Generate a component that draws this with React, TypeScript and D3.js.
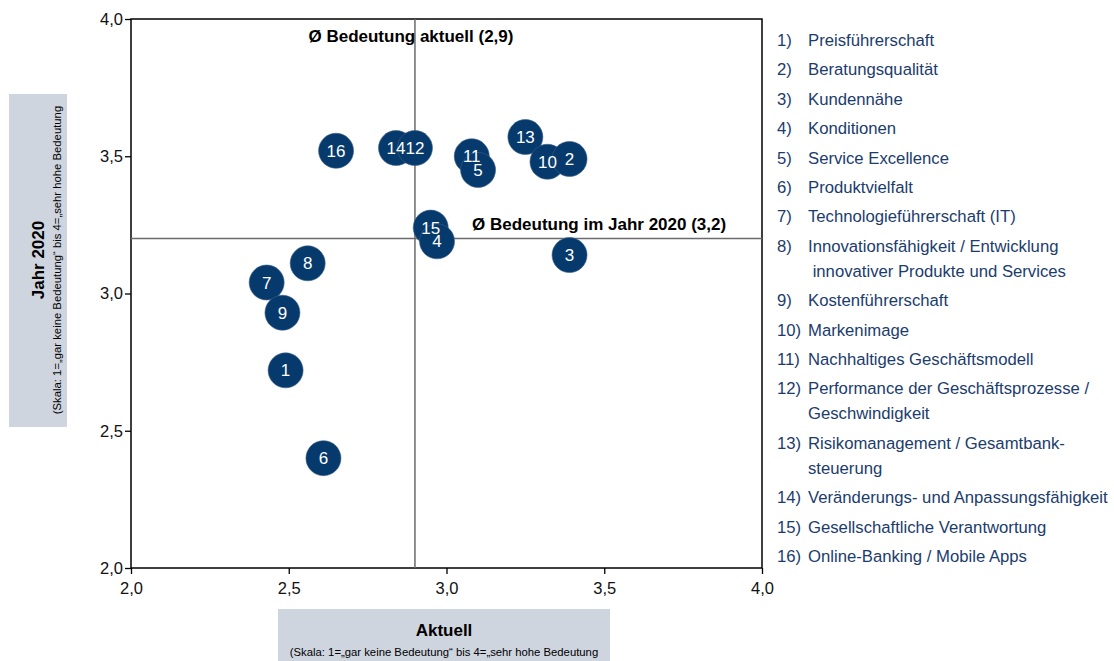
import React, { useEffect, useRef } from "react";
import * as d3 from "d3";

// Data (Skala 1..4)
const ids = [1, 2, 3, 4, 5, 6, 7, 8, 9, 10, 11, 12, 13, 14, 15, 16];
const aktuell = [2.49, 3.39, 3.39, 2.97, 3.1, 2.61, 2.43, 2.56, 2.48, 3.32, 3.08, 2.9, 3.25, 2.84, 2.95, 2.65];
const jahr2020 = [2.72, 3.49, 3.14, 3.19, 3.45, 2.4, 3.04, 3.11, 2.93, 3.48, 3.5, 3.53, 3.57, 3.53, 3.24, 3.52];
const drawOrder = [1, 3, 6, 7, 9, 8, 16, 14, 12, 11, 5, 13, 10, 2, 15, 4];

const legendItems = [
  ["Preisführerschaft"],
  ["Beratungsqualität"],
  ["Kundennähe"],
  ["Konditionen"],
  ["Service Excellence"],
  ["Produktvielfalt"],
  ["Technologieführerschaft (IT)"],
  ["Innovationsfähigkeit / Entwicklung", " innovativer Produkte und Services"],
  ["Kostenführerschaft"],
  ["Markenimage"],
  ["Nachhaltiges Geschäftsmodell"],
  ["Performance der Geschäftsprozesse /", "Geschwindigkeit"],
  ["Risikomanagement / Gesamtbank-", "steuerung"],
  ["Veränderungs- und Anpassungsfähigkeit"],
  ["Gesellschaftliche Verantwortung"],
  ["Online-Banking / Mobile Apps"],
];

const xTicks = [2.0, 2.5, 3.0, 3.5, 4.0];
const yTicks = [2.0, 2.5, 3.0, 3.5, 4.0];
const avgAktuell = 2.9;
const avg2020 = 3.2;

const FONT = '"Liberation Sans", Arial, sans-serif';
const NAVY = "#063a6d";
const LEGEND = "#1b3c6c";
const SCALE_NOTE = "(Skala: 1=„gar keine Bedeutung“ bis 4=„sehr hohe Bedeutung";

export default function App() {
  const ref = useRef<SVGSVGElement>(null);

  useEffect(() => {
    const width = 1114;
    const height = 661;
    const plot = { left: 131, right: 762, top: 19, bottom: 568 };

    const svg = d3.select(ref.current);
    svg.selectAll("*").remove();
    svg.attr("width", width).attr("height", height);

    const x = d3.scaleLinear().domain([2, 4]).range([plot.left, plot.right]);
    const y = d3.scaleLinear().domain([2, 4]).range([plot.bottom, plot.top]);
    const fmt = (v: number) => v.toFixed(1).replace(".", ",");

    // axis title boxes
    svg.append("rect").attr("x", 9).attr("y", 94).attr("width", 58).attr("height", 333).attr("fill", "#cfd5df");
    svg.append("rect").attr("x", 278).attr("y", 609).attr("width", 332).attr("height", 52).attr("fill", "#cfd5df");

    const yTitle = svg.append("g").attr("transform", "translate(38,260) rotate(-90)");
    yTitle.append("text").attr("text-anchor", "middle").attr("y", 6)
      .style("font-family", FONT).style("font-size", "17px").style("font-weight", "bold")
      .text("Jahr 2020");
    yTitle.append("text").attr("text-anchor", "middle").attr("y", 23)
      .style("font-family", FONT).style("font-size", "11.3px")
      .text(SCALE_NOTE);

    svg.append("text").attr("x", 444).attr("y", 636).attr("text-anchor", "middle")
      .style("font-family", FONT).style("font-size", "17px").style("font-weight", "bold")
      .text("Aktuell");
    svg.append("text").attr("x", 444).attr("y", 656).attr("text-anchor", "middle")
      .style("font-family", FONT).style("font-size", "11.3px")
      .text(SCALE_NOTE);

    // Axes
    const xAxis = svg.append("g").attr("transform", `translate(0,${plot.bottom})`)
      .call(d3.axisBottom(x).tickValues(xTicks).tickFormat((d) => fmt(d as number)).tickSizeOuter(0).tickSize(6));
    const yAxis = svg.append("g").attr("transform", `translate(${plot.left},0)`)
      .call(d3.axisLeft(y).tickValues(yTicks).tickFormat((d) => fmt(d as number)).tickSizeOuter(0).tickSize(6));
    [xAxis, yAxis].forEach((a) => {
      a.select(".domain").remove();
      a.selectAll("line").attr("stroke", "#000").attr("stroke-width", 1.3);
      a.selectAll("text").style("font-family", FONT).style("font-size", "16.5px").attr("fill", "#111");
    });
    xAxis.selectAll("text").attr("dy", "1.05em");
    yAxis.selectAll("text").attr("x", -8);

    // Frame
    svg.append("rect").attr("x", plot.left).attr("y", plot.top)
      .attr("width", plot.right - plot.left).attr("height", plot.bottom - plot.top)
      .attr("fill", "none").attr("stroke", "#000").attr("stroke-width", 1.5);

    // Average lines
    svg.append("line").attr("x1", x(avgAktuell)).attr("x2", x(avgAktuell))
      .attr("y1", plot.top).attr("y2", plot.bottom).attr("stroke", "#6b6b6b").attr("stroke-width", 1.5);
    svg.append("line").attr("x1", plot.left).attr("x2", plot.right)
      .attr("y1", y(avg2020)).attr("y2", y(avg2020)).attr("stroke", "#6b6b6b").attr("stroke-width", 1.5);

    svg.append("text").attr("x", x(avgAktuell) - 4).attr("y", 42).attr("text-anchor", "middle")
      .style("font-family", FONT).style("font-size", "17px").style("font-weight", "bold")
      .text(`Ø Bedeutung aktuell (${fmt(avgAktuell)})`);
    svg.append("text").attr("x", 472).attr("y", 230)
      .style("font-family", FONT).style("font-size", "17px").style("font-weight", "bold")
      .text(`Ø Bedeutung im Jahr 2020 (${fmt(avg2020)})`);

    // Bubbles
    const pts = drawOrder.map((id) => ({ id, a: aktuell[id - 1], j: jahr2020[id - 1] }));
    const g = svg.append("g");
    g.selectAll("circle").data(pts).join("circle")
      .attr("cx", (d) => x(d.a)).attr("cy", (d) => y(d.j)).attr("r", 17.5)
      .attr("fill", NAVY).attr("stroke", "#3d5f86").attr("stroke-width", 0.6);
    g.selectAll("text").data(pts).join("text")
      .attr("x", (d) => x(d.a)).attr("y", (d) => y(d.j)).attr("dy", "0.36em")
      .attr("text-anchor", "middle").attr("fill", "#fff")
      .style("font-family", FONT).style("font-size", "17px")
      .text((d) => d.id);

    // Legend
    const lg = svg.append("g").style("font-family", FONT).style("font-size", "16.7px").attr("fill", LEGEND);
    let cy = 40;
    legendItems.forEach((lines, i) => {
      lg.append("text").attr("x", 777).attr("y", cy).attr("dy", "0.36em").text(`${ids[i]})`);
      lines.forEach((line, k) => {
        lg.append("text").attr("x", 808).attr("y", cy + k * 25).attr("dy", "0.36em")
          .attr("xml:space", "preserve").style("white-space", "pre").text(line);
      });
      cy += 29.4 + (lines.length - 1) * 25;
    });
  }, []);

  return (
    <div style={{ position: "absolute", left: 0, top: 0, background: "#fff" }}>
      <svg ref={ref} style={{ display: "block" }} />
    </div>
  );
}
